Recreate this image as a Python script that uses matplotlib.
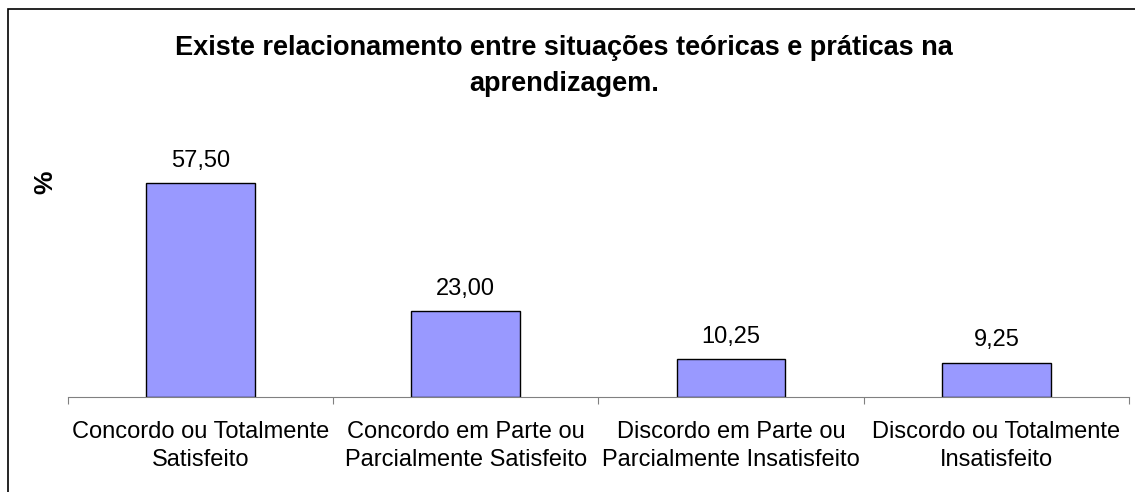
import matplotlib
matplotlib.use('Agg')
import matplotlib.pyplot as plt
from matplotlib.patches import Rectangle

plt.rcParams['font.family'] = ['Liberation Sans', 'DejaVu Sans']

# dados
categorias = ['Concordo ou Totalmente\nSatisfeito',
              'Concordo em Parte ou\nParcialmente Satisfeito',
              'Discordo em Parte ou\nParcialmente Insatisfeito',
              'Discordo ou Totalmente\nInsatisfeito']
valores = [57.50, 23.00, 10.25, 9.25]
rotulos = ['57,50', '23,00', '10,25', '9,25']
titulo = 'Existe relacionamento entre situações teóricas e práticas na\naprendizagem.'

fig = plt.figure(figsize=(11.35, 4.92), dpi=100)
ax = fig.add_axes([0.0599, 0.193, 0.9348, 0.534])

x = range(len(valores))
ax.bar(x, valores, width=0.41, color='#9999FF', edgecolor='black', linewidth=1)

for i, v in enumerate(valores):
    ax.annotate(rotulos[i], (i, v), xytext=(0, 8), textcoords='offset points',
                ha='center', va='bottom', fontsize=17)

ax.set_xlim(-0.5, len(valores) - 0.5)
ax.set_ylim(0, 70.5)
ax.set_yticks([])
for s in ['top', 'right', 'left']:
    ax.spines[s].set_visible(False)
ax.spines['bottom'].set_color('#808080')

ax.set_xticks([i + 0.5 for i in range(-1, len(valores))], minor=False)
ax.set_xticklabels([])
ax.tick_params(axis='x', which='major', length=5, color='#808080', direction='out')
ax.set_xticks(list(x), minor=True)
ax.set_xticklabels(categorias, minor=True, fontsize=17, linespacing=1.35)
ax.tick_params(axis='x', which='minor', length=0, pad=17)

fig.text(0.0396, 0.63, '%', rotation=90, fontsize=19, fontweight='bold',
         ha='center', va='center')
fig.text(0.497, 0.866, titulo, ha='center', va='center', fontsize=19.5,
         fontweight='bold', linespacing=1.5)

# moldura
fig.patches.append(Rectangle((0.007, -0.01), 1.0, 0.992, transform=fig.transFigure,
                             fill=False, edgecolor='black', linewidth=1.2))

fig.savefig('out.png', dpi=100)
